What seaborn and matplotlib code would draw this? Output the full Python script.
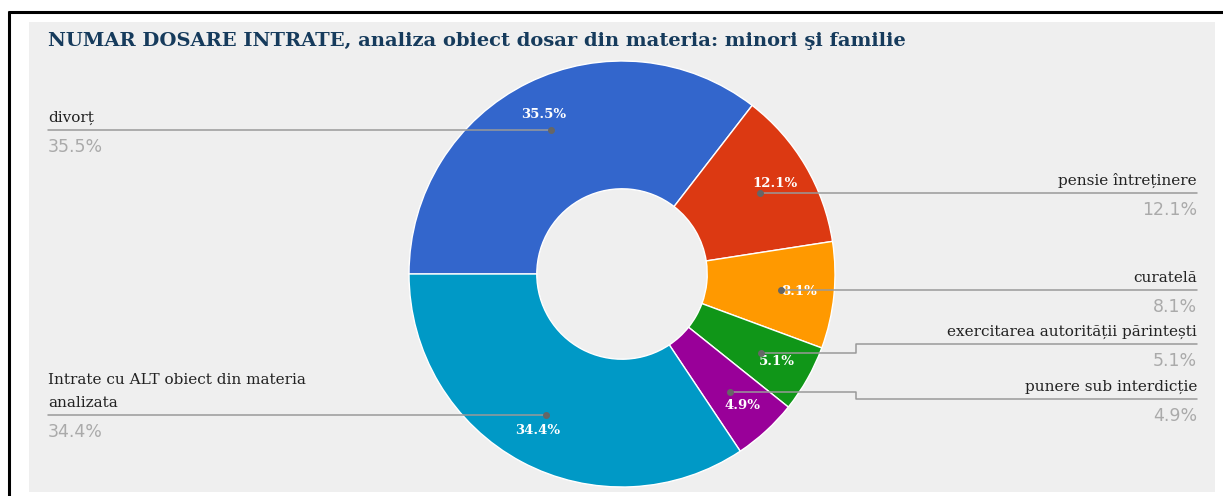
import matplotlib.pyplot as plt
import seaborn as sns
import numpy as np
from matplotlib.patches import Rectangle

# data
categories = ["divorț", "pensie întreținere", "curatelă",
              "exercitarea autorității părintești", "punere sub interdicție",
              "Intrate cu ALT obiect din materia\nanalizata"]
shares = [35.5, 12.1, 8.1, 5.1, 4.9, 34.4]
colors = ["#3366cc", "#dc3912", "#ff9900", "#109618", "#990099", "#0099c6"]
title = "NUMAR DOSARE INTRATE, analiza obiect dosar din materia: minori şi familie"

sns.set_style("white")
plt.rcParams["font.family"] = ["DejaVu Serif"]

W, H = 1223, 496
fig = plt.figure(figsize=(W / 100, H / 100), dpi=100)
fig.patch.set_facecolor("white")

# background panel + frame, in pixel coords
bg = fig.add_axes([0, 0, 1, 1])
bg.set_xlim(0, W)
bg.set_ylim(H, 0)
bg.axis("off")
bg.add_patch(Rectangle((29, 22), 1186, 470, color="#efefef", lw=0))
bg.plot([8, W], [12, 12], color="black", lw=2.2, solid_capstyle="butt")
bg.plot([9, 9], [11, H], color="black", lw=2.2, solid_capstyle="butt")
bg.text(48, 41, title, fontsize=14, fontweight="bold", color="#163b5c",
        va="center", ha="left")

# donut
cx, cy, R = 622, 274, 213
ax = fig.add_axes([(cx - R) / W, (H - cy - R) / H, 2 * R / W, 2 * R / H])
ax.patch.set_alpha(0)
wedges, _, autotexts = ax.pie(
    shares, colors=sns.color_palette(colors), startangle=180, counterclock=False,
    wedgeprops=dict(width=0.6, edgecolor="white", linewidth=1),
    autopct=lambda p: f"{p:.1f}%", pctdistance=0.835,
    textprops=dict(color="white", fontsize=9.5, fontweight="bold"))
ax.set_xlim(-1, 1)
ax.set_ylim(-1, 1)
ax.set_aspect("equal")

# leader lines and outside labels
ov = fig.add_axes([0, 0, 1, 1])
ov.set_xlim(0, W)
ov.set_ylim(H, 0)
ov.axis("off")
ov.patch.set_alpha(0)

line_y_override = {3: 344, 4: 399}
elbow_x = 856
for i, (w, name, val) in enumerate(zip(wedges, categories, shares)):
    th = np.deg2rad((w.theta1 + w.theta2) / 2)
    dx = cx + 0.752 * R * np.cos(th)
    dy = cy - 0.752 * R * np.sin(th)
    ly = line_y_override.get(i, dy)
    if np.cos(th) > 0:
        xe = 1197
        if i in line_y_override:
            xs, ys = [dx, elbow_x, elbow_x, xe], [dy, dy, ly, ly]
        else:
            xs, ys = [dx, xe], [dy, dy]
        ha = "right"
    else:
        xe = 48
        xs, ys = [xe, dx], [dy, dy]
        ha = "left"
    ov.plot(xs, ys, color="#999999", lw=1.1)
    ov.plot([dx], [dy], "o", color="#666666", ms=4)
    ov.text(xe, ly - 8, name, ha=ha, va="baseline", fontsize=11, color="#222222",
            linespacing=1.85)
    ov.text(xe, ly + 8, f"{val:.1f}%", ha=ha, va="top", fontsize=12.5,
            color="#aaaaaa", family="DejaVu Sans")

fig.savefig("out.png", dpi=100)
